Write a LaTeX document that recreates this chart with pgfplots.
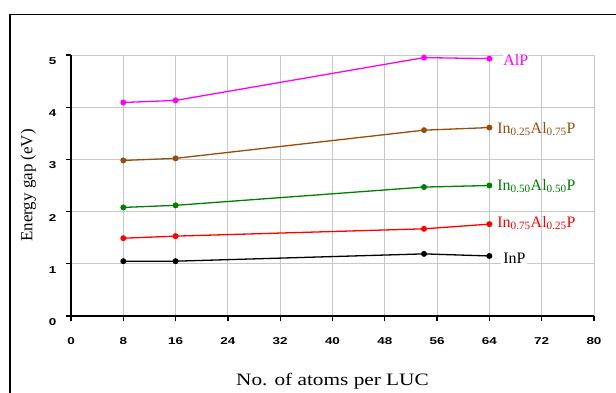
\documentclass[border=0pt]{standalone}
\usepackage{pgfplots}
\pgfplotsset{compat=1.18}
\usepackage{fontspec}
\setmainfont{Liberation Serif}
\newfontfamily\xlabfont{Liberation Serif}[FakeStretch=1.22]
\newfontfamily\tickfont{Liberation Sans}[FakeStretch=1.35]
\definecolor{brownline}{RGB}{153,76,10}
\definecolor{greenline}{RGB}{0,128,0}
\definecolor{magline}{RGB}{255,0,255}
\definecolor{gridgray}{RGB}{200,200,200}
\begin{document}
\begin{tikzpicture}
\useasboundingbox (-71bp,-77bp) rectangle (545bp,316bp);
\draw[line width=1.3bp] (-61bp,-80bp) -- (-61bp,301.5bp) -- (550bp,301.5bp);
\begin{axis}[
  at={(0,0)}, anchor=south west,
  scale only axis, width=523bp, height=261bp,
  xmin=0, xmax=80, ymin=0, ymax=5,
  xtick={0,8,...,80}, ytick={0,1,2,3,4,5},
  axis x line=bottom, axis y line=left,
  axis line style={-, line width=1.3bp},
  tick align=outside, major tick length=5bp,
  tick style={black, line width=1.3bp},
  grid=major, grid style={gridgray, line width=0.8bp},
  /pgf/number format/assume math mode=true,
  ticklabel style={font=\tickfont\bfseries\fontsize{10}{12}\selectfont},
  xticklabel style={yshift=-13bp},
  yticklabel style={yshift=-6bp, xshift=-6bp},
  xlabel={\xlabfont\fontsize{17.5}{20}\selectfont No. of atoms per LUC},
  xlabel style={at={(axis description cs:0.5,-0.248)}, anchor=center},
  ylabel={\fontsize{17}{20}\selectfont Energy gap (eV)},
  ylabel style={at={(axis description cs:-0.0816,0.5)}, anchor=center, rotate=0},
  clip=false,
  every axis plot/.append style={line width=1.3bp, mark=*, mark size=2.3bp},
]
\addplot[magline] coordinates {(8,4.09) (16,4.13) (54,4.95) (64,4.93)};
\addplot[brownline] coordinates {(8,2.98) (16,3.02) (54,3.56) (64,3.61)};
\addplot[greenline] coordinates {(8,2.08) (16,2.12) (54,2.47) (64,2.50)};
\addplot[red] coordinates {(8,1.49) (16,1.53) (54,1.67) (64,1.76)};
\addplot[black] coordinates {(8,1.05) (16,1.05) (54,1.19) (64,1.15)};
\node[anchor=west, inner xsep=0pt, inner ysep=1pt, fill=white, text=magline, font=\fontsize{16}{18}\selectfont] at (axis cs:66.1,4.91) {AlP};
\node[anchor=west, inner sep=0pt, text=brownline, font=\fontsize{16}{18}\selectfont] at (axis cs:65.2,3.58) {In\textsubscript{0.25}Al\textsubscript{0.75}P};
\node[anchor=west, inner sep=0pt, text=greenline, font=\fontsize{16}{18}\selectfont] at (axis cs:65.2,2.49) {In\textsubscript{0.50}Al\textsubscript{0.50}P};
\node[anchor=west, inner sep=0pt, text=red, font=\fontsize{16}{18}\selectfont] at (axis cs:65.2,1.78) {In\textsubscript{0.75}Al\textsubscript{0.25}P};
\node[anchor=west, inner xsep=2pt, inner ysep=2pt, fill=white, text=black, font=\fontsize{16}{18}\selectfont] at (axis cs:65.8,1.11) {InP};
\end{axis}
\end{tikzpicture}
\end{document}
